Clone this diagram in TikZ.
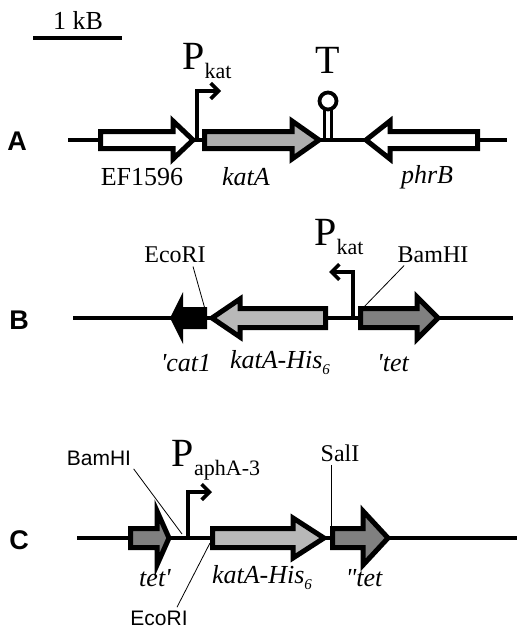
\documentclass[tikz,border=0pt]{standalone}
\usepackage{fontspec}
\setmainfont{Liberation Serif}
\setsansfont{Liberation Sans}
\usetikzlibrary{arrows.meta}

\newcommand{\fs}[1]{\fontsize{#1}{#1}\selectfont}
\newcommand{\lowsub}[2]{\raisebox{-0.5ex}{\fs{#1}#2}}

\begin{document}
\begin{tikzpicture}[x=1pt,y=-1pt,
  backbone/.style={line width=4pt},
  gene/.style={draw=black,line width=5pt,line join=miter,miter limit=20},
  prom/.style={line width=3.8pt,-{Straight Barb[angle=90:11pt,line width=3.6pt]}},
  leader/.style={line width=0.8pt},
  genelab/.style={font=\fs{26}\itshape},
  cutlab/.style={font=\fs{24}},
  cutsans/.style={font=\fs{21}\sffamily},
  plab/.style={font=\fs{40},inner sep=0pt},
  rowlab/.style={font=\fs{27}\sffamily\bfseries},
]
        \useasboundingbox (0,0) rectangle (525,634);
        % scale bar
        \draw[line width=4.5pt] (33,38) -- (122,38);
        \node[font=\fs{26}] (kb) at (78,21) {1 kB};

        % --- A ---
        \node[rowlab] (A) at (17,141) {A};
        \draw[backbone] (68,140) -- (507,140);
        \draw[gene,fill=white] (100.5,131.5) -- (173,131.5) -- (173,121) -- (193,140) -- (173,159) -- (173,148.5) -- (100.5,148.5) -- cycle;
        \draw[gene,fill=black!32] (204.5,131.5) -- (292,131.5) -- (292,121) -- (319,140) -- (292,159) -- (292,148.5) -- (204.5,148.5) -- cycle;
        \draw[gene,fill=white] (477.5,131.5) -- (390,131.5) -- (390,121) -- (366,140) -- (390,159) -- (390,148.5) -- (477.5,148.5) -- cycle;
        \coordinate (pA0) at (197,140);
        \coordinate (pA1) at (197,91);
        \coordinate (pA2) at (221,91);
        \draw[prom] (pA0) -- (pA1) -- (pA2);
        \node[plab] (PA) at (207,61) {P\lowsub{22}{kat}};
        % terminator
        \draw[line width=2.8pt] (324.5,140) -- (324.5,110);
        \draw[line width=2.8pt] (331.5,140) -- (331.5,110);
        \draw[line width=3.8pt,fill=white] (328,101) circle (8.5);
        \node[plab] (T) at (328,60) {T};
        \node[font=\fs{26}] (ef) at (142,177) {EF1596};
        \node[genelab] (katA) at (246,177) {katA};
        \node[genelab] (phrB) at (427,177) {phrB};

        % --- B ---
        \node[rowlab] (B) at (19,320) {B};
        \draw[backbone] (73,318) -- (513,318);
        \fill[black] (207,307) -- (183,307) -- (183,292) -- (170,318) -- (183,344) -- (183,329) -- (207,329) -- cycle;
        \draw[gene,fill=black!28] (325.5,308.5) -- (240,308.5) -- (240,299) -- (212,318) -- (240,337) -- (240,327.5) -- (325.5,327.5) -- cycle;
        \draw[gene,fill=black!50] (360.5,308.5) -- (417,308.5) -- (417,297) -- (438,318) -- (417,339) -- (417,327.5) -- (360.5,327.5) -- cycle;
        \coordinate (pB0) at (353,318);
        \coordinate (pB1) at (353,272);
        \coordinate (pB2) at (329,272);
        \draw[prom] (pB0) -- (pB1) -- (pB2);
        \node[plab] (PB) at (339,237) {P\lowsub{22}{kat}};
        \node[cutlab] (ecoB) at (175,255) {EcoRI};
        \coordinate (ecoBx) at (205,309);
        \draw[leader] (ecoB.south) ++(18,0) -- (ecoBx);
        \node[cutlab] (bamB) at (433,255) {BamHI};
        \coordinate (bamBx) at (362,309);
        \draw[leader] (bamB.south west) ++(10,-1) -- (bamBx);
        \node[genelab] (catB) at (186,363) {\textquotesingle cat1};
        \node[genelab] (kathB) at (280,363) {katA-His\lowsub{15}{6}};
        \node[genelab] (tetB) at (393,363) {\textquotesingle tet};

        % --- C ---
        \node[rowlab] (C) at (19,540) {C};
        \draw[backbone] (77,538) -- (517,538);
        \draw[gene,fill=black!50] (130.5,528.5) -- (157,528.5) -- (157,511) -- (169,538) -- (157,565) -- (157,547.5) -- (130.5,547.5) -- cycle;
        \draw[gene,fill=black!28] (212.5,528.5) -- (293,528.5) -- (293,518) -- (324,538) -- (293,558) -- (293,547.5) -- (212.5,547.5) -- cycle;
        \draw[gene,fill=black!50] (332.5,528.5) -- (363,528.5) -- (363,511) -- (388,538) -- (363,565) -- (363,547.5) -- (332.5,547.5) -- cycle;
        \coordinate (pC0) at (188,538);
        \coordinate (pC1) at (188,492);
        \coordinate (pC2) at (212,492);
        \draw[prom] (pC0) -- (pC1) -- (pC2);
        \node[plab] (PC) at (216,460) {P\lowsub{22}{aphA-3}};
        \node[cutsans] (bamC) at (99,458) {BamHI};
        \coordinate (bamCx) at (182,534);
        \draw[leader] (bamC.south east) ++(-1,0) -- (bamCx);
        \node[cutsans] (ecoC) at (159,618) {EcoRI};
        \coordinate (ecoCx) at (210,543);
        \draw[leader] (ecoC.north) ++(18,0) -- (ecoCx);
        \node[cutlab] (salC) at (340,453) {SalI};
        \coordinate (salCx) at (331,530);
        \draw[leader] (salC.south) ++(-9,0) -- (salCx);
        \node[genelab] (tetC) at (155,578) {tet\textquotesingle};
        \node[genelab] (kathC) at (262,578) {katA-His\lowsub{15}{6}};
        \node[genelab] (tet2C) at (364,578) {\textquotedbl tet};
    \end{tikzpicture}
\end{document}
